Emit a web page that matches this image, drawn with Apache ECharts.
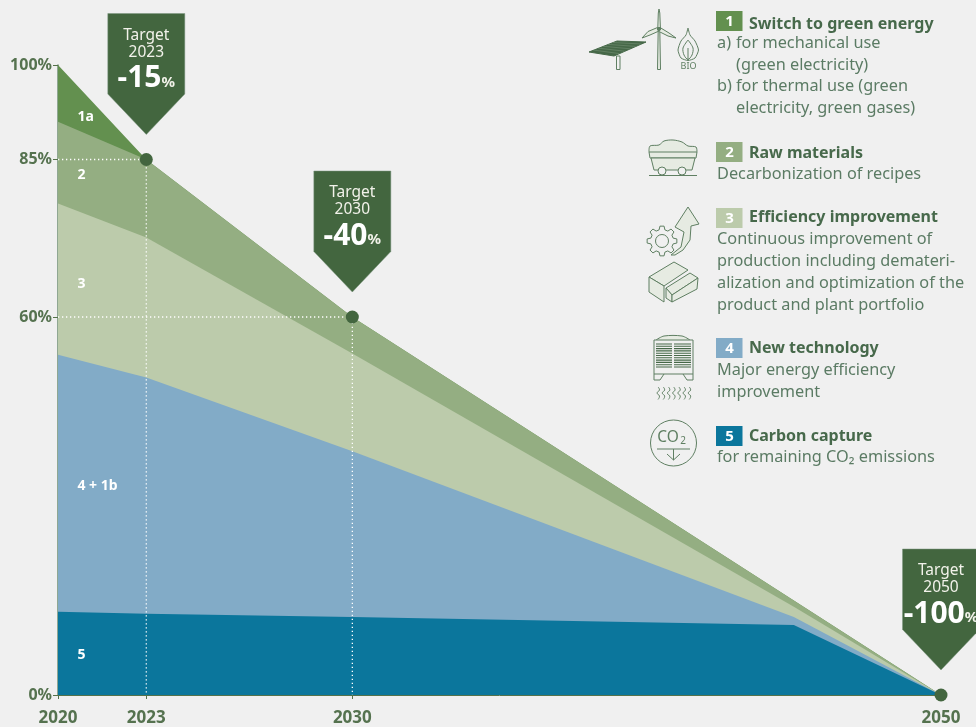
<!DOCTYPE html>
<html><head><meta charset="utf-8">
<style>html,body{margin:0;padding:0;background:#f0f0f0}#c{width:976px;height:727px}</style>
<script src="https://cdn.jsdelivr.net/npm/echarts@6/dist/echarts.min.js"></script>
</head><body><div id="c"></div>
<script>
// ---- data ----
const years = [2020, 2023, 2030, 2045, 2050];
const top1a = [100, 85, 60, 15, 0];
const top2  = [91, 85, 60, 15, 0];
const top3  = [78, 72.6, 54.2, 14, 0];
const top4  = [54, 50.4, 38.7, 12.4, 0];
const top5  = [13.2, 12.9, 12.4, 11.1, 0];
const xTicks = [2020, 2023, 2030, 2050];
const yTicks = [0, 60, 85, 100];
const targetYears = [2023, 2030, 2050];
const targetValues = [85, 60, 0];
const targetLabels = ['-15', '-40', '-100'];
const bandNames = ['1a', '2', '3', '4 + 1b', '5'];
const bandLabelYears = [2020.66, 2020.66, 2020.66, 2020.66, 2020.66];
const bandLabelValues = [91.8, 82.5, 65.2, 33.1, 6.3];
const legendNumbers = ['1', '2', '3', '4', '5'];
const legendTitles = ['Switch to green energy', 'Raw materials', 'Efficiency improvement', 'New technology', 'Carbon capture'];
const legendBodies = [
  ['a) ', 'for mechanical use', '', '(green electricity)', 'b) ', 'for thermal use (green', '', 'electricity, green gases)'],
  ['Decarbonization of recipes'],
  ['Continuous improvement of', 'production including demateri-', 'alization and optimization of the', 'product and plant portfolio'],
  ['Major energy efficiency', 'improvement'],
  ['for remaining CO\u2082 emissions']
];
// ---- style ----
const FONT = '"Noto Sans", sans-serif';
const C1 = '#63904f', C2 = '#94ae82', C3 = '#bccbab', C4 = '#82abc7', C5 = '#0b769c';
const DARK = '#43663f', TITLE = '#47694b', BODY = '#5b7b64', ICON = '#5f7f62', ICONFILL = '#e6ebe2';
const legendColors = [C1, C2, C3, C4, C5];

function band(name, vals, color) {
  return { name, type: 'line', data: years.map((y, i) => [y, vals[i]]), showSymbol: false, symbol: 'none',
    lineStyle: { width: 0 }, areaStyle: { color, opacity: 1, origin: 'start' }, silent: true, z: 2 };
}
function guide(y, v) {
  return { type: 'line', data: [[2020, v], [y, v], [y, 0]], showSymbol: false, symbol: 'none', silent: true, z: 3,
    lineStyle: { color: '#ffffff', width: 1.3, type: [1.3, 2.7] } };
}
// ---- graphic helpers ----
const T = (text, x, y, o) => ({ type: 'text', x, y: y + 1.5, silent: true, style: Object.assign({ text, fontFamily: FONT, fontSize: 16.3, fill: BODY,
  align: 'left', verticalAlign: 'middle', textAlign: 'left', textVerticalAlign: 'middle' }, o || {}) });
const S = { stroke: ICON, lineWidth: 1, fill: 'none' };
const PL = (pts, o, smooth) => ({ type: 'polyline', silent: true, shape: { points: pts, smooth: smooth || 0 }, style: Object.assign({}, S, o || {}) });
const PG = (pts, o) => ({ type: 'polygon', silent: true, shape: { points: pts }, style: Object.assign({}, S, o || {}) });
const CI = (cx, cy, r, o) => ({ type: 'circle', silent: true, shape: { cx, cy, r }, style: Object.assign({}, S, o || {}) });
const LN = (x1, y1, x2, y2, o) => ({ type: 'line', silent: true, shape: { x1, y1, x2, y2 }, style: Object.assign({}, S, o || {}) });
const RC = (x, y, width, height, o) => ({ type: 'rect', silent: true, shape: { x, y, width, height }, style: Object.assign({}, S, o || {}) });

function gearPoints(cx, cy, ro, ri, n) {
  const pts = [];
  for (let i = 0; i < n; i++) {
    const a = i / n * Math.PI * 2, w = Math.PI / n * 0.5;
    [[ri, a - w * 1.3], [ro, a - w * 0.7], [ro, a + w * 0.7], [ri, a + w * 1.3]].forEach(p => pts.push([cx + p[0] * Math.cos(p[1]), cy + p[0] * Math.sin(p[1])]));
  }
  return pts;
}
function icons() {
  const g = [];
  // solar panel
  g.push(PG([[589, 52], [617, 41], [646, 42], [614, 56]], { fill: '#466848', stroke: '#466848' }));
  for (let i = 1; i < 6; i++) g.push(LN(589 + i * 4.8, 52 - i * 1.9, 614 + i * 5.4, 56 - i * 2.4, { stroke: '#8ba48b', lineWidth: 0.4 }));
  g.push(RC(616.5, 56, 3.5, 13.5));
  // wind turbine
  g.push(PG([[657.5, 69.5], [658.2, 30], [659.8, 30], [660.5, 69.5]], { fill: ICONFILL }));
  g.push(PG([[657.8, 28], [658.3, 13], [659, 9], [659.8, 13], [660.4, 28]], { fill: ICONFILL }));
  g.push(PG([[657.5, 27.5], [648, 31.5], [642, 38], [650, 35], [659, 31]], { fill: ICONFILL }));
  g.push(PG([[660, 27.5], [669, 33], [676, 38], [668, 36], [658, 31]], { fill: ICONFILL }));
  g.push(CI(659, 29, 1.6, { fill: ICON }));
  // flame
  g.push(PL([[688, 28], [690, 35], [695, 41], [698.5, 50], [695, 58], [688, 60.5], [681, 58], [678, 50], [681, 41], [686, 35], [688, 28]], {}, 0.2));
  g.push(PL([[688, 40], [693, 48], [692, 55], [688, 59.5], [684, 55], [683, 48], [688, 40]], {}, 0.3));
  g.push(LN(688, 48, 688, 60));
  g.push(T('BIO', 688.5, 64.5, { fontSize: 9, fill: ICON, align: 'center', textAlign: 'center' }));
  // cart
  g.push(PL([[649, 152], [650, 146], [659, 145], [664, 141], [673, 140], [682, 142], [688, 146], [696, 147], [697, 152]], { fill: ICONFILL }, 0.3));
  g.push(PG([[649, 152], [697, 152], [696, 158], [650, 158]], { fill: ICONFILL }));
  g.push(PG([[651, 158], [695, 158], [692, 170], [654, 170]], { fill: ICONFILL }));
  g.push(CI(662, 171, 4, { fill: '#f0f0f0' }));
  g.push(CI(682, 171, 4, { fill: '#f0f0f0' }));
  g.push(LN(649, 175.5, 697, 175.5));
  // arrow + gear
  g.push(PG([[671, 255], [681, 247], [684, 232], [675, 227], [688, 207], [699, 224], [691, 226], [690, 240], [683, 250], [675, 255]], { fill: ICONFILL }));
  g.push(PG(gearPoints(662, 241, 15, 11.5, 8), { fill: '#f0f0f0' }));
  g.push(CI(662, 241, 6.5, { fill: '#f0f0f0' }));
  // bricks
  g.push(PG([[649, 277], [674, 262], [688, 270], [664, 286]], { fill: ICONFILL }));
  g.push(PG([[649, 277], [664, 286], [664, 302], [649, 292]], { fill: ICONFILL }));
  g.push(PG([[666, 288], [690, 273], [698, 278], [672, 295]], { fill: ICONFILL }));
  g.push(PG([[666, 288], [672, 295], [672, 302], [666, 298]], { fill: ICONFILL }));
  g.push(PG([[672, 295], [698, 278], [697, 289], [672, 302]], { fill: ICONFILL }));
  // heater
  g.push(PL([[656, 340], [664, 336], [682, 336], [690, 340]], { fill: ICONFILL }, 0.3));
  g.push(RC(654, 340, 39, 34, { fill: '#f0f0f0' }));
  for (let i = 0; i < 11; i++) {
    g.push(LN(656, 344 + i * 2.3, 691, 344 + i * 2.3, { stroke: '#466848', lineWidth: 1.1 }));
  }
  g.push(LN(673, 343, 673, 370, { stroke: '#f0f0f0', lineWidth: 2 }));
  g.push(PL([[654, 374], [654, 380], [660, 380], [664, 374]]));
  g.push(PL([[693, 374], [693, 380], [687, 380], [683, 374]]));
  for (let i = 0; i < 7; i++) {
    const x = 658 + i * 5.2;
    g.push(PL([[x, 387], [x + 1.5, 390], [x - 1, 393], [x + 1.5, 396], [x, 399.5]], { lineWidth: 0.9 }, 0.5));
  }
  // CO2
  g.push(CI(673.5, 443, 23));
  g.push(T('CO', 668, 436.5, { fontSize: 15.5, fill: ICON, align: 'center', textAlign: 'center' }));
  g.push(T('2', 683, 440, { fontSize: 10, fill: ICON, align: 'center', textAlign: 'center' }));
  g.push(LN(657, 449, 690, 449));
  g.push(LN(673.5, 449, 673.5, 460));
  g.push(PL([[667, 454], [673.5, 460], [680, 454]]));
  return g;
}
function legend() {
  const g = [];
  const swatchTop = [11, 142, 208, 338, 426];
  const titleY = [23, 151.5, 216, 347, 435];
  const bodyY = [[42, 64, 85, 107], [172.5], [238, 260, 282, 304], [369, 391], [455.5]];
  legendNumbers.forEach((n, i) => {
    g.push({ type: 'rect', silent: true, shape: { x: 716, y: swatchTop[i], width: 26.5, height: 20 }, style: { fill: legendColors[i] } });
    g.push(T(n, 729.5, swatchTop[i] + 9, { fontSize: 15, fontWeight: 'bold', fill: '#fff', align: 'center', textAlign: 'center' }));
    g.push(T(legendTitles[i], 749, titleY[i], { fontSize: 16, fontWeight: 'bold', fill: TITLE }));
    if (i === 0) {
      const b = legendBodies[0];
      for (let k = 0; k < 4; k++) {
        if (b[k * 2]) g.push(T(b[k * 2].trim(), 717, bodyY[0][k]));
        g.push(T(b[k * 2 + 1], 736, bodyY[0][k]));
      }
    } else legendBodies[i].forEach((line, k) => g.push(T(line, 717, bodyY[i][k])));
  });
  return g;
}

const chart = echarts.init(document.getElementById('c'), null, { renderer: 'canvas' });
chart.setOption({
  animation: false,
  backgroundColor: '#f0f0f0',
  grid: { left: 58, right: 35, top: 65, bottom: 31.5 },
  xAxis: { type: 'value', min: 2020, max: 2050, splitLine: { show: false },
    axisLine: { show: true, lineStyle: { color: '#55724a', width: 1 } },
    axisTick: { show: true, length: 4, customValues: xTicks, lineStyle: { color: '#55724a' } },
    axisLabel: { customValues: xTicks, formatter: v => String(v), fontFamily: FONT, fontSize: 17, fontWeight: 'bold', color: '#55724f', margin: 15 } },
  yAxis: { type: 'value', min: 0, max: 100, splitLine: { show: false },
    axisLine: { show: true, lineStyle: { color: '#6f8f73', width: 1.5 } },
    axisTick: { show: true, length: 5, customValues: yTicks, lineStyle: { color: '#55724a' } },
    axisLabel: { customValues: yTicks, formatter: v => v + '%', fontFamily: FONT, fontSize: 16, fontWeight: 'bold', color: '#55724f', margin: 6 } },
  series: [
    band('1a', top1a, C1), band('2', top2, C2), band('3', top3, C3), band('4', top4, C4), band('5', top5, C5),
    guide(2023, 85), guide(2030, 60),
    { type: 'custom', silent: true, clip: false, z: 4, coordinateSystem: 'cartesian2d',
      data: bandNames.map((n, i) => [bandLabelYears[i], bandLabelValues[i], n]),
      renderItem: (p, api) => { const c = api.coord([api.value(0), api.value(1)]);
        return { type: 'text', x: c[0], y: c[1], style: { text: bandNames[p.dataIndex], fontFamily: FONT, fontSize: 14, fontWeight: 'bold', fill: '#fff', align: 'left', verticalAlign: 'middle' } }; } },
    { type: 'scatter', data: targetYears.map((y, i) => [y, targetValues[i]]), symbolSize: 13, clip: false, silent: true, z: 5,
      itemStyle: { color: DARK, opacity: 1 } },
    { type: 'custom', silent: true, clip: false, z: 6, coordinateSystem: 'cartesian2d',
      data: targetYears.map((y, i) => [y, targetValues[i]]),
      renderItem: (p, api) => {
        const c = api.coord([api.value(0), api.value(1)]), x = c[0], y = c[1], i = p.dataIndex;
        const txt = (text, dy, o) => ({ type: 'text', x, y: y + dy, style: Object.assign({ text, fontFamily: FONT, fontSize: 15.5, fill: '#f2f2ea', align: 'center', verticalAlign: 'middle' }, o || {}) });
        return { type: 'group', children: [
          { type: 'polygon', shape: { points: [[x - 38.5, y - 146], [x + 38.5, y - 146], [x + 38.5, y - 65.5], [x, y - 25], [x - 38.5, y - 65.5]] }, style: { fill: DARK, stroke: '#7d9680', lineWidth: 0.5 } },
          txt('Target', -124), txt(String(targetYears[i]), -107),
          txt('{a|' + targetLabels[i] + '}{b|%}', -81, { rich: { a: { fontFamily: FONT, fontSize: 30, fontWeight: 'bold', fill: '#fff' }, b: { fontFamily: FONT, fontSize: 15, fontWeight: 'bold', fill: '#f2f2ea', padding: [8, 0, 0, 0] } } })
        ] };
      } }
  ],
  graphic: { elements: icons().concat(legend()) }
});
</script></body></html>
